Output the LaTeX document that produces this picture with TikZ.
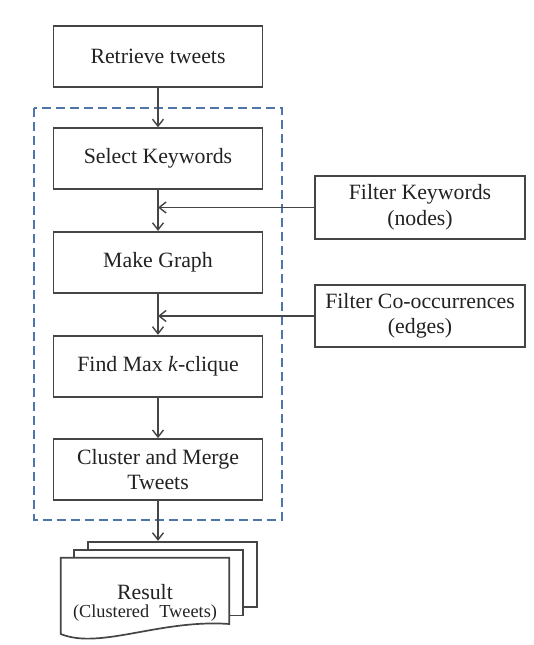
\documentclass[tikz,border=0pt]{standalone}
\usepackage{fontspec}
\setmainfont{Liberation Serif}
\usetikzlibrary{arrows.meta}
\definecolor{linegray}{HTML}{454545}
\definecolor{textgray}{HTML}{222222}
\definecolor{dashblue}{HTML}{4F76AA}
\tikzset{
  stepbox/.style={draw=linegray, line width=1.8pt, fill=white, rectangle,
    minimum width=209pt, minimum height=61pt, inner sep=2pt, align=center,
    text=textgray, font=\fontsize{21.8}{25.5}\selectfont},
  filterbox/.style={stepbox, minimum width=210pt, minimum height=62pt},
  sheet/.style={draw=linegray, line width=1.7pt, fill=white, rectangle,
    minimum width=169pt, minimum height=65.6pt, inner sep=0pt},
  flow/.style={draw=linegray, line width=1.5pt, -{Straight Barb[length=7pt,width=11pt,line width=1.4pt]}},
  groupbox/.style={draw=dashblue, line width=2pt, dash pattern=on 9pt off 5pt}
}
\begin{document}
\begin{tikzpicture}[x=1pt,y=-1pt]
\useasboundingbox (0,0) rectangle (534,645);
\fill[white] (0,0) rectangle (534,645);
% dashed group
\draw[groupbox] (34.3,108.3) rectangle (282,520);
% main steps
\node[stepbox] (rt) at (158,56.2) {Retrieve tweets};
\node[stepbox] (sk) at (158,158.7) {Select Keywords};
\node[stepbox] (mg) at (158,262.3) {Make Graph};
\node[stepbox] (fm) at (158,366.2) {Find Max \textit{k}-clique};
\node[stepbox] (cm) at (158,469.5) {Cluster and Merge\\Tweets};
% filters
\node[filterbox, minimum height=63pt] (fk) at (420,207.5) {Filter Keywords\\(nodes)};
\node[filterbox] (fc) at (420,316) {Filter Co-occurrences\\(edges)};
% result stack
\node[sheet] (r3) at (172.5,574.5) {};
\node[sheet] (r2) at (158.5,582.7) {};
\coordinate (ftl) at (60.7,557.7);
\coordinate (ftr) at (229.3,557.7);
\draw[linegray, line width=1.7pt, fill=white, line join=miter]
  (ftl) -- (ftr) -- (229.3,624)
  .. controls (160,619) and (100,650) .. (60.7,634) -- cycle;
\node[align=center, text=textgray, inner sep=0pt,
  font=\fontsize{18.3}{18}\selectfont] (res) at (145,603)
  {{\fontsize{21.8}{18}\selectfont Result}\\(Clustered\hspace{0.3em} Tweets)};
% connectors
\draw[flow] (rt.south) -- (sk.north);
\draw[flow] (sk.south) -- (mg.north);
\draw[flow] (mg.south) -- (fm.north);
\draw[flow] (fm.south) -- (cm.north);
\draw[flow] (cm.south) -- (cm.south |- r3.north);
\draw[flow] (fk.west) -- (fk.west -| sk.south);
\draw[flow] (fc.west) -- (fc.west -| mg.south);
\end{tikzpicture}
\end{document}
